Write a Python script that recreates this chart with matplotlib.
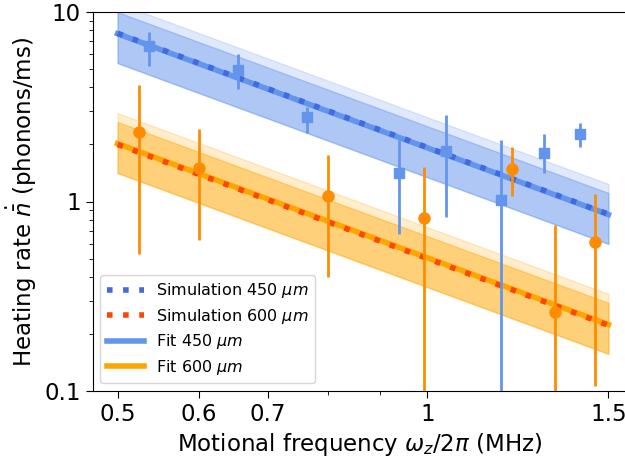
import numpy as np
import matplotlib.pyplot as plt
from matplotlib.ticker import FixedLocator, FixedFormatter, NullFormatter

# measured heating rates (phonons/ms), 450 um trap
f_450 = [0.537, 0.655, 0.764, 0.939, 1.044, 1.179, 1.298, 1.408]
r_450 = [6.6, 4.95, 2.8, 1.41, 1.84, 1.02, 1.81, 2.28]
lo_450 = [5.2, 3.9, 2.3, 0.67, 0.83, 0.05, 1.41, 1.95]
hi_450 = [7.85, 6.0, 3.16, 2.12, 2.85, 2.1, 2.26, 2.6]

# measured heating rates, 600 um trap
f_600 = [0.524, 0.600, 0.800, 0.993, 1.208, 1.331, 1.456]
r_600 = [2.34, 1.51, 1.07, 0.82, 1.49, 0.26, 0.61]
lo_600 = [0.527, 0.63, 0.40, 0.05, 1.07, 0.05, 0.106]
hi_600 = [4.13, 2.4, 1.75, 1.53, 1.93, 0.75, 1.1]

# fit / simulation: rate = A * f^-2
freq = np.linspace(0.5, 1.5, 50)
A_fit = {"450": 1.92, "600": 0.505}
A_sim = {"450": 1.93, "600": 0.50}
band_lo = 0.70
band_hi = 1.30
band_hi2 = 1.45

blue, blue_sim = "cornflowerblue", "royalblue"
orange, orange_fit, orange_sim = "darkorange", "orange", "orangered"

fig = plt.figure(figsize=(6.25, 4.58), dpi=100)
ax = fig.add_axes([92.5/625, 67/458, 534/625, 379/458])

for key, c in (("450", blue), ("600", orange_fit)):
    fit = A_fit[key] * freq**-2
    ax.fill_between(freq, fit*band_lo, fit*band_hi2, color=c, alpha=0.2)
    ax.fill_between(freq, fit*band_lo, fit*band_hi, color=c, alpha=0.4)

ax.plot(freq, A_fit["450"] * freq**-2, color=blue, lw=4, label=r"Fit 450 $\mu m$", zorder=3)
ax.plot(freq, A_fit["600"] * freq**-2, color=orange_fit, lw=4, label=r"Fit 600 $\mu m$", zorder=3)
ax.plot(freq, A_sim["450"] * freq**-2, color=blue_sim, lw=4, ls=(0, (1, 1.9)),
        label=r"Simulation 450 $\mu m$", zorder=4)
ax.plot(freq, A_sim["600"] * freq**-2, color=orange_sim, lw=4, ls=(0, (1, 1.9)),
        label=r"Simulation 600 $\mu m$", zorder=4)

r = np.array(r_450)
ax.errorbar(f_450, r, yerr=[r - np.array(lo_450), np.array(hi_450) - r], fmt="s",
            color=blue, ms=7, elinewidth=2, capsize=0, zorder=5)
r = np.array(r_600)
ax.errorbar(f_600, r, yerr=[r - np.array(lo_600), np.array(hi_600) - r], fmt="o",
            color=orange, ms=8, elinewidth=2, capsize=0, zorder=5)

ax.set_xscale("log")
ax.set_yscale("log")
ax.set_xlim(0.4727, 1.562)
ax.set_ylim(0.1, 10)

xt = [0.5, 0.6, 0.7, 1, 1.5]
ax.xaxis.set_major_locator(FixedLocator(xt))
ax.xaxis.set_major_formatter(FixedFormatter(["0.5", "0.6", "0.7", "1", "1.5"]))
ax.xaxis.set_minor_locator(FixedLocator([0.8, 0.9]))
ax.xaxis.set_minor_formatter(NullFormatter())
ax.yaxis.set_major_locator(FixedLocator([0.1, 1, 10]))
ax.yaxis.set_major_formatter(FixedFormatter(["0.1", "1", "10"]))
ax.tick_params(labelsize=16.5)
ax.tick_params(which="major", length=5)
ax.tick_params(which="minor", length=3)

ax.set_xlabel(r"Motional frequency $\omega_z/2\pi$ (MHz)", fontsize=16.5)
ax.set_ylabel(r"Heating rate $\dot{\bar{n}}$ (phonons/ms)", fontsize=16.5)

h, lab = ax.get_legend_handles_labels()
order = [2, 3, 0, 1]
ax.legend([h[i] for i in order], [lab[i] for i in order], loc="lower left",
          fontsize=11.5, labelspacing=0.4, handlelength=2.3)

fig.savefig("out.png", dpi=100)
